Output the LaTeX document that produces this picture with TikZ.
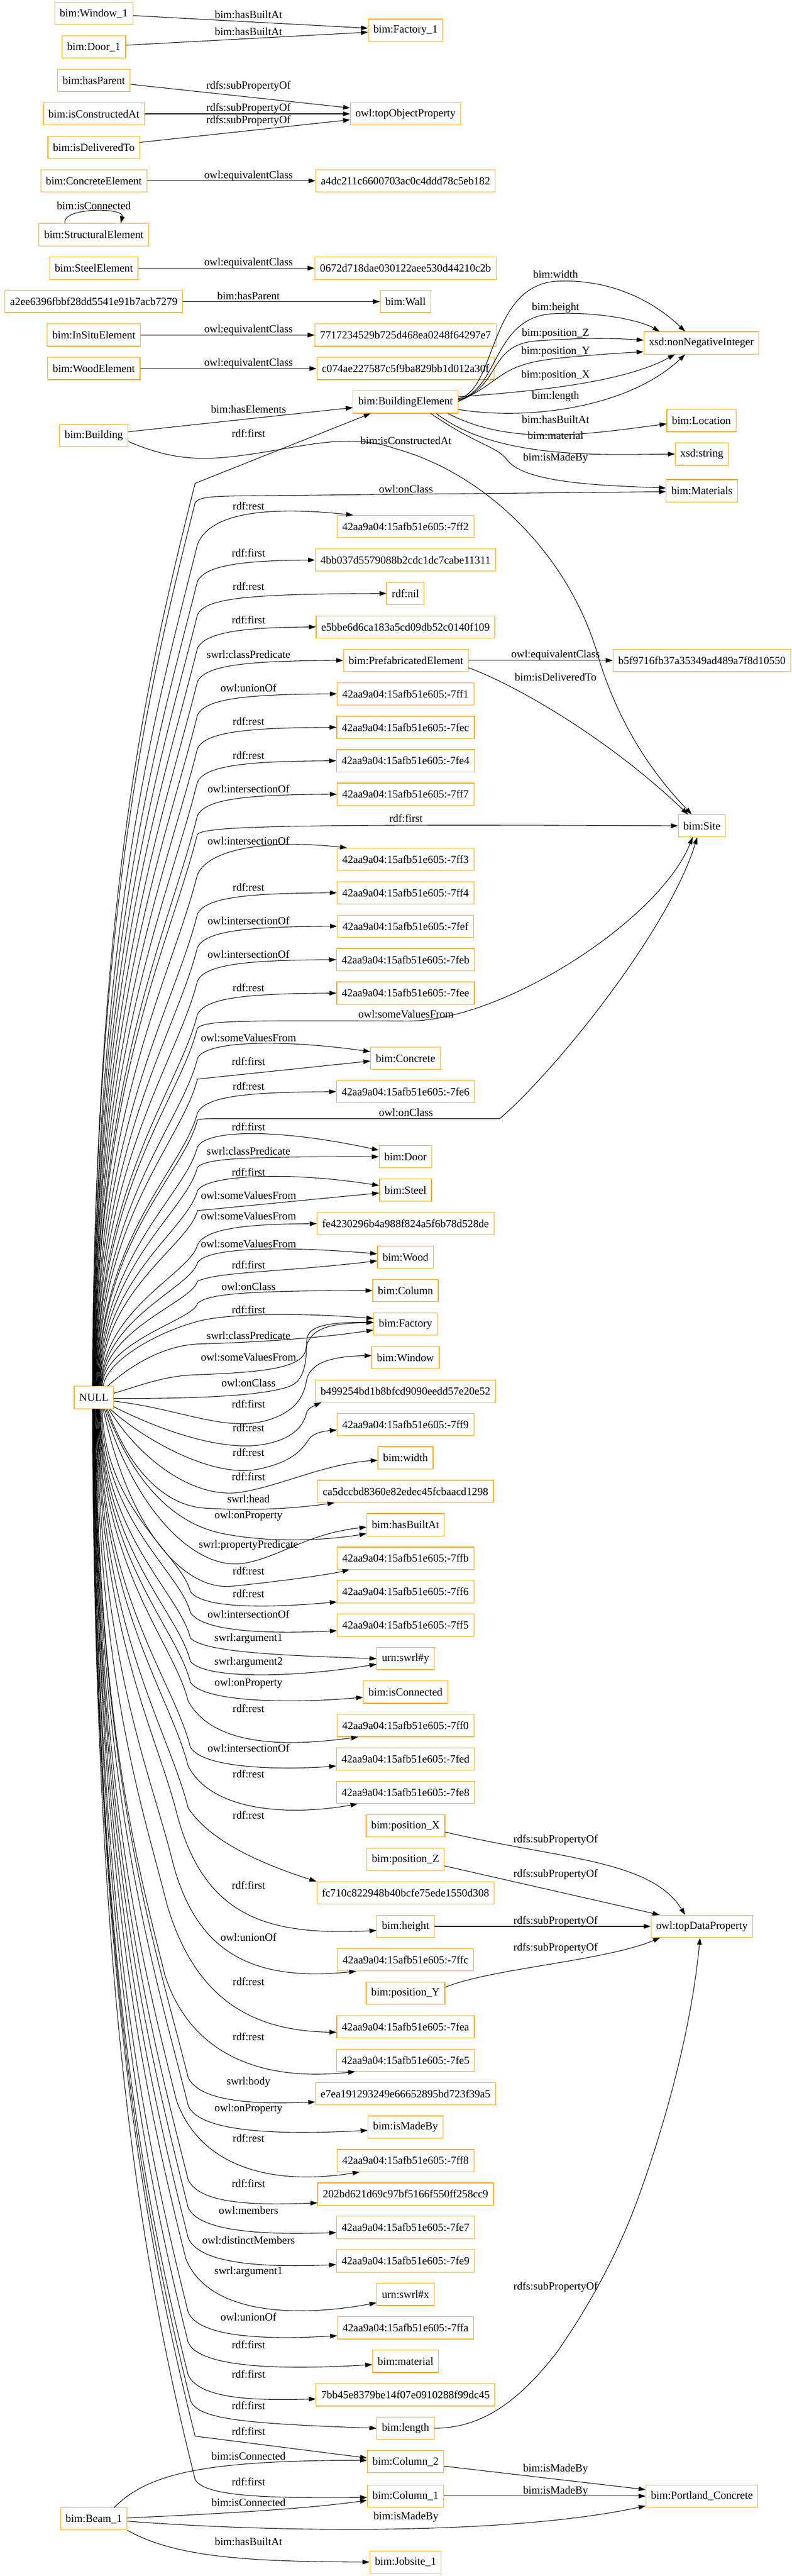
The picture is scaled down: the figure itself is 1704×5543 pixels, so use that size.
\documentclass[tikz,border=0pt]{standalone}
\usepackage{fontspec}
\setmainfont{Liberation Serif}
\usetikzlibrary{arrows.meta}
\definecolor{boxorange}{HTML}{FFA500}
\newcommand\fsz{\fontsize{23.5pt}{28pt}\selectfont}
% trunk upward from NULL: #1 xshift, #2 bend x, #3 bend y, #4 continuation
\newcommand\tu[4]{\draw[conn] ([xshift=#1pt]NULL.north) .. controls ({207+(#1)},{2983-0.55*(2983-(#3))}) and ({(#2)-0.05*(2983-(#3))},{(#3)+0.2*(2983-(#3))}) .. (#2,{#3}) #4;}
% trunk downward from NULL
\newcommand\td[4]{\draw[conn] ([xshift=#1pt]NULL.south) .. controls ({207+(#1)},{3031+0.55*((#3)-3031)}) and ({(#2)-0.05*((#3)-3031)},{(#3)-0.2*((#3)-3031)}) .. (#2,{#3}) #4;}
% standard upper edge: #1 xshift, #2 target, #3 target y
\newcommand\std[3]{\tu{#1}{425}{#3+46}{.. controls (442,{#3+10}) and (530,{#3+1}) .. (#2.west)}}
\begin{document}
\begin{tikzpicture}[x=1pt,y=-1pt,
  nbox/.style={draw=boxorange,line width=1.3pt,inner xsep=11pt,inner ysep=2pt,minimum height=48pt,font=\fsz},
  conn/.style={line width=1.2pt,-{Triangle[length=15pt,width=10pt]}},
  lbl/.style={font=\fsz,inner sep=0pt}]
\fill[white] (0,0) rectangle (1704,5543);
\useasboundingbox (0,0) rectangle (1704,5543);
% ---------- nodes ----------
\node[nbox] (win1) at (202,29) {bim:Window\_1};
\node[nbox] (door1) at (202,101) {bim:Door\_1};
\node[nbox] (fac1) at (873,65) {bim:Factory\_1};
\node[nbox] (hasp) at (202,173) {bim:hasParent};
\node[nbox] (isca) at (202,245) {bim:isConstructedAt};
\node[nbox] (isdt) at (202,317) {bim:isDeliveredTo};
\node[nbox] (top) at (873,245) {owl:topObjectProperty};
\node[nbox] (conel) at (202,389) {bim:ConcreteElement};
\node[nbox] (a4dc) at (873,389) {a4dc211c6600703ac0c4ddd78c5eb182};
\node[nbox] (strel) at (202,505) {bim:StructuralElement};
\node[nbox] (stel) at (202,577) {bim:SteelElement};
\node[nbox] (n0672) at (873,577) {0672d718dae030122aee530d44210c2b};
\node[nbox] (a2ee) at (202,649) {a2ee6396fbbf28dd5541e91b7acb7279};
\node[nbox] (wall) at (873,649) {bim:Wall};
\node[nbox] (insitu) at (202,721) {bim:InSituElement};
\node[nbox] (n7717) at (873,721) {7717234529b725d468ea0248f64297e7};
\node[nbox] (woodel) at (202,793) {bim:WoodElement};
\node[nbox] (c074) at (873,793) {c074ae227587c5f9ba829bb1d012a30f};
\node[nbox] (be) at (873,865) {bim:BuildingElement};
\node[nbox] (xsd) at (1510,738) {xsd:nonNegativeInteger};
\node[nbox] (bldg) at (202,937) {bim:Building};
\node[nbox] (loc) at (1510,905) {bim:Location};
\node[nbox] (str) at (1511,977) {xsd:string};
\node[nbox] (mat) at (1511,1056) {bim:Materials};
\node[nbox] (n7ff2) at (873,1133) {42aa9a04:15afb51e605:-7ff2};
\node[nbox] (n4bb) at (873,1205) {4bb037d5579088b2cdc1dc7cabe11311};
\node[nbox] (nil) at (873,1277) {rdf:nil};
\node[nbox] (e5bb) at (873,1349) {e5bbe6d6ca183a5cd09db52c0140f109};
\node[nbox] (pre) at (874,1421) {bim:PrefabricatedElement};
\node[nbox] (b5f) at (1511,1421) {b5f9716fb37a35349ad489a7f8d10550};
\node[nbox] (n7ff1) at (873,1493) {42aa9a04:15afb51e605:-7ff1};
\node[nbox] (n7fec) at (873,1565) {42aa9a04:15afb51e605:-7fec};
\node[nbox] (n7fe4) at (873,1637) {42aa9a04:15afb51e605:-7fe4};
\node[nbox] (n7ff7) at (873,1709) {42aa9a04:15afb51e605:-7ff7};
\node[nbox] (site) at (1511,1777) {bim:Site};
\node[nbox] (n7ff3) at (873,1849) {42aa9a04:15afb51e605:-7ff3};
\node[nbox] (n7ff4) at (873,1921) {42aa9a04:15afb51e605:-7ff4};
\node[nbox] (n7fef) at (873,1993) {42aa9a04:15afb51e605:-7fef};
\node[nbox] (n7feb) at (873,2065) {42aa9a04:15afb51e605:-7feb};
\node[nbox] (n7fee) at (873,2137) {42aa9a04:15afb51e605:-7fee};
\node[nbox] (conc) at (873,2277) {bim:Concrete};
\node[nbox] (n7fe6) at (873,2349) {42aa9a04:15afb51e605:-7fe6};
\node[nbox] (door) at (873,2489) {bim:Door};
\node[nbox] (steel) at (873,2561) {bim:Steel};
\node[nbox] (fe42) at (873,2633) {fe4230296b4a988f824a5f6b78d528de};
\node[nbox] (wood) at (873,2705) {bim:Wood};
\node[nbox] (col) at (873,2777) {bim:Column};
\node[nbox] (fac) at (873,2849) {bim:Factory};
\node[nbox] (win) at (873,2921) {bim:Window};
\node[nbox] (b49) at (873,2993) {b499254bd1b8bfcd9090eedd57e20e52};
\node[nbox] (NULL) at (202,3007) {NULL};
\node[nbox] (n7ff9) at (873,3065) {42aa9a04:15afb51e605:-7ff9};
\node[nbox] (wid) at (873,3137) {bim:width};
\node[nbox] (ca5d) at (873,3209) {ca5dccbd8360e82edec45fcbaacd1298};
\node[nbox] (hba) at (873,3281) {bim:hasBuiltAt};
\node[nbox] (n7ffb) at (873,3353) {42aa9a04:15afb51e605:-7ffb};
\node[nbox] (n7ff6) at (873,3425) {42aa9a04:15afb51e605:-7ff6};
\node[nbox] (n7ff5) at (873,3497) {42aa9a04:15afb51e605:-7ff5};
\node[nbox] (sy) at (873,3569) {urn:swrl\#y};
\node[nbox] (isc) at (873,3641) {bim:isConnected};
\node[nbox] (n7ff0) at (873,3713) {42aa9a04:15afb51e605:-7ff0};
\node[nbox] (n7fed) at (873,3785) {42aa9a04:15afb51e605:-7fed};
\node[nbox] (n7fe8) at (873,3857) {42aa9a04:15afb51e605:-7fe8};
\node[nbox] (px) at (873,3929) {bim:position\_X};
\node[nbox] (pz) at (873,4001) {bim:position\_Z};
\node[nbox] (fc) at (873,4073) {fc710c822948b40bcfe75ede1550d308};
\node[nbox] (ht) at (873,4145) {bim:height};
\node[nbox] (tdp) at (1511,4145) {owl:topDataProperty};
\node[nbox] (n7ffc) at (873,4217) {42aa9a04:15afb51e605:-7ffc};
\node[nbox] (py) at (873,4289) {bim:position\_Y};
\node[nbox] (n7fea) at (873,4361) {42aa9a04:15afb51e605:-7fea};
\node[nbox] (n7fe5) at (873,4433) {42aa9a04:15afb51e605:-7fe5};
\node[nbox] (e7ea) at (873,4505) {e7ea191293249e66652895bd723f39a5};
\node[nbox] (imb) at (873,4577) {bim:isMadeBy};
\node[nbox] (n7ff8) at (873,4649) {42aa9a04:15afb51e605:-7ff8};
\node[nbox] (n202) at (873,4721) {202bd621d69c97bf5166f550ff258cc9};
\node[nbox] (n7fe7) at (873,4793) {42aa9a04:15afb51e605:-7fe7};
\node[nbox] (n7fe9) at (873,4865) {42aa9a04:15afb51e605:-7fe9};
\node[nbox] (sx) at (873,4937) {urn:swrl\#x};
\node[nbox] (n7ffa) at (873,5009) {42aa9a04:15afb51e605:-7ffa};
\node[nbox] (mtl) at (873,5081) {bim:material};
\node[nbox] (n7bb) at (873,5153) {7bb45e8379be14f07e0910288f99dc45};
\node[nbox] (len) at (873,5225) {bim:length};
\node[nbox] (col2) at (873,5297) {bim:Column\_2};
\node[nbox] (col1) at (873,5371) {bim:Column\_1};
\node[nbox] (pc) at (1511,5371) {bim:Portland\_Concrete};
\node[nbox] (beam) at (202,5420) {bim:Beam\_1};
\node[nbox] (job) at (873,5513) {bim:Jobsite\_1};
% ---------- top edges ----------
\draw[conn] (win1) -- (fac1);
\draw[conn] (door1) -- (fac1);
\draw[conn] (hasp) -- (top);
\draw[conn] (isca) -- (top);
\draw[conn] (isdt) -- (top);
\draw[conn] (conel) -- (a4dc);
\draw[conn] ([xshift=-62pt]strel.north) .. controls (132,446) and (268,446) .. ([xshift=58pt]strel.north);
\draw[conn] (stel) -- (n0672);
\draw[conn] (a2ee) -- (wall);
\draw[conn] (insitu) -- (n7717);
\draw[conn] (woodel) -- (c074);
\draw[conn] (bldg) -- (be);
\draw[conn] ([yshift=-13pt]bldg.east) .. controls (380,995) and (450,990) .. (535,978) .. controls (650,962) and (750,930) .. (850,965) .. controls (1050,1020) and (1230,1200) .. (1290,1420) .. controls (1340,1580) and (1420,1680) .. ([xshift=-22pt]site.north);
% BuildingElement edges
\draw[conn] ([yshift=7pt]be.east) .. controls (1070,840) and (1050,612) .. (1201,605) .. controls (1330,600) and (1420,660) .. ([xshift=-35pt]xsd.north);
\draw[conn] ([yshift=5pt]be.east) .. controls (1075,840) and (1060,682) .. (1191,675) .. controls (1290,670) and (1380,690) .. ([xshift=-90pt]xsd.north);
\draw[conn] ([yshift=3pt]be.east) .. controls (1080,830) and (1050,745) .. (1150,734) .. controls (1250,726) and (1330,728) .. ([yshift=6pt]xsd.west);
\draw[conn] ([yshift=1pt]be.east) .. controls (1085,820) and (1070,785) .. (1200,771) .. controls (1270,764) and (1330,760) .. ([yshift=-19pt]xsd.west);
\draw[conn] ([yshift=11pt]be.east) .. controls (1100,845) and (1330,830) .. ([xshift=-57pt]xsd.south);
\draw[conn] ([yshift=-16pt]be.east) .. controls (1130,905) and (1350,880) .. ([xshift=-35pt]xsd.south);
\draw[conn] ([xshift=91pt]be.south) .. controls (1100,960) and (1260,935) .. ([yshift=-7pt]loc.west);
\draw[conn] ([xshift=66pt]be.south) .. controls (1070,990) and (1300,978) .. (str.west);
\draw[conn] ([xshift=54pt]be.south) .. controls (1030,960) and (1070,960) .. (1092,990) .. controls (1130,1040) and (1300,1045) .. ([yshift=6pt]mat.west);
% Prefab edges
\draw[conn] (pre) -- (b5f);
\draw[conn] ([yshift=-16pt]pre.east) .. controls (1100,1470) and (1300,1580) .. ([xshift=-30pt]site.north);
% ---------- NULL upward ----------
\tu{-3}{420}{1040}{-- ([xshift=-75pt]be.south)}
\tu{-3}{420}{1082}{.. controls (428,1070) and (450,1068) .. (520,1067) -- ([yshift=-2pt]mat.west)}
\tu{-2}{425}{1172}{.. controls (450,1105) and (570,1088) .. ([xshift=35pt]n7ff2.north west)}
\std{-2}{n4bb}{1205}
\std{-1}{nil}{1277}
\std{-1}{e5bb}{1349}
\std{0}{pre}{1421}
\std{0}{n7ff1}{1493}
\std{1}{n7fec}{1565}
\std{1}{n7fe4}{1637}
\std{2}{n7ff7}{1709}
\tu{2}{425}{1795}{.. controls (445,1778) and (600,1773) .. (site.west)}
\tu{3}{425}{1882}{.. controls (450,1825) and (580,1806) .. ([xshift=22pt]n7ff3.north west)}
\std{3}{n7ff4}{1921}
\std{4}{n7fef}{1993}
\std{4}{n7feb}{2065}
\std{5}{n7fee}{2137}
\tu{6}{425}{2212}{.. controls (445,2195) and (520,2196) .. (874,2197) .. controls (1080,2200) and (1420,1980) .. ([xshift=-20pt]site.south)}
\tu{7}{425}{2278}{.. controls (440,2240) and (600,2235) .. ([yshift=14pt]conc.west)}
\tu{8}{425}{2322}{-- ([yshift=-6pt]conc.west)}
\std{9}{n7fe6}{2349}
\tu{10}{425}{2410}{.. controls (440,2407) .. (480,2407) -- (1076,2407) .. controls (1200,2300) and (1440,2000) .. ([xshift=-10pt]site.south)}
\tu{11}{425}{2468}{.. controls (445,2430) and (600,2428) .. ([yshift=14pt]door.west)}
\tu{12}{425}{2512}{.. controls (445,2492) and (520,2489) .. (door.west)}
\tu{13}{425}{2562}{.. controls (445,2528) and (620,2520) .. ([yshift=10pt]steel.west)}
\tu{14}{425}{2605}{-- ([yshift=-6pt]steel.west)}
\std{15}{fe42}{2633}
\tu{16}{425}{2717}{.. controls (445,2685) and (600,2680) .. ([yshift=7pt]wood.west)}
\tu{17}{425}{2757}{.. controls (470,2736) and (600,2738) .. ([yshift=-8pt]wood.west)}
\tu{18}{425}{2805}{.. controls (445,2785) and (520,2777) .. (col.west)}
\draw[conn] ([xshift=20pt]NULL.north) .. controls (230,2930) and (330,2870) .. (420,2845) .. controls (480,2826) and (640,2824) .. ([yshift=12pt]fac.west);
\draw[conn] ([xshift=30pt]NULL.north) .. controls (290,2930) and (360,2895) .. (426,2892) .. controls (560,2888) and (680,2880) .. ([yshift=-13pt]fac.west);
\draw[conn] ([yshift=9pt]NULL.east) .. controls (320,2975) and (360,2960) .. (426,2958) .. controls (560,2953) and (650,2945) .. (658,2905) .. controls (665,2862) and (700,2847) .. ([yshift=3pt]fac.west);
\draw[conn] ([yshift=-2pt]NULL.east) .. controls (400,3010) and (580,3005) .. (630,2980) .. controls (665,2960) and (658,2900) .. (661,2880) .. controls (665,2855) and (700,2845) .. ([yshift=4pt]fac.west);
% ---------- NULL near / S-curves ----------
\draw[conn] ([yshift=-8pt]NULL.east) .. controls (380,3030) and (480,3080) .. (568,3058) .. controls (640,3040) and (655,3000) .. (660,2970) .. controls (668,2930) and (720,2918) .. ([yshift=4pt]win.west);
\draw[conn] ([yshift=-20pt]NULL.east) .. controls (330,3070) and (470,3125) .. (568,3108) .. controls (640,3095) and (655,3060) .. (660,3040) .. controls (663,3030) and (676,3025) .. ([xshift=13pt]b49.south west);
\draw[conn] ([xshift=35pt]NULL.south) .. controls (300,3090) and (450,3180) .. (552,3162) .. controls (640,3145) and (655,3110) .. (668,3093) .. controls (680,3082) and (700,3079) .. ([yshift=-12pt]n7ff9.west);
\draw[conn] ([xshift=32pt]NULL.south) .. controls (300,3140) and (420,3230) .. (524,3210) .. controls (610,3195) and (700,3150) .. ([yshift=-5pt]wid.west);
\draw[conn] ([xshift=29pt]NULL.south) .. controls (280,3170) and (360,3240) .. (440,3245) .. controls (550,3252) and (640,3245) .. ([xshift=37pt]ca5d.south west);
\draw[conn] ([xshift=26pt]NULL.south) .. controls (290,3200) and (380,3280) .. (480,3300) .. controls (580,3320) and (700,3315) .. ([yshift=-19pt]hba.west);
\draw[conn] ([xshift=23pt]NULL.south) .. controls (290,3250) and (420,3380) .. (524,3364) .. controls (600,3352) and (660,3300) .. ([yshift=-5pt]hba.west);
\draw[conn] ([xshift=20pt]NULL.south) .. controls (280,3300) and (400,3425) .. (502,3413) .. controls (580,3405) and (700,3390) .. ([xshift=27pt]n7ffb.south west);
% ---------- NULL downward ----------
\td{18}{410}{3425}{.. controls (440,3465) and (600,3458) .. ([yshift=-22pt]n7ff6.west)}
\td{16}{410}{3470}{.. controls (440,3515) and (600,3515) .. ([yshift=-12pt]n7ff5.west)}
\td{14}{410}{3525}{.. controls (440,3555) and (600,3562) .. (sy.west)}
\td{13}{410}{3575}{.. controls (440,3612) and (620,3612) .. ([yshift=-12pt]sy.west)}
\td{12}{410}{3620}{.. controls (440,3665) and (640,3665) .. ([yshift=-11pt]isc.west)}
\td{11}{405}{3660}{.. controls (460,3760) and (620,3758) .. ([xshift=46pt]n7ff0.south west)}
\td{10}{410}{3760}{.. controls (440,3808) and (620,3808) .. ([yshift=-15pt]n7fed.west)}
\td{9}{405}{3800}{.. controls (460,3905) and (640,3905) .. ([xshift=46pt]n7fe8.south west)}
\td{8}{405}{3890}{.. controls (450,3960) and (560,4010) .. (fc.north west)}
\td{7}{380}{3900}{.. controls (440,4130) and (580,4165) .. ([yshift=-9pt]ht.west)}
\td{6}{370}{4000}{.. controls (420,4200) and (540,4265) .. ([xshift=41pt]n7ffc.south west)}
\td{5}{360}{4100}{.. controls (420,4300) and (540,4370) .. ([yshift=-12pt]n7fea.west)}
\td{4}{355}{4250}{.. controls (410,4420) and (560,4480) .. ([xshift=41pt]n7fe5.south west)}
\td{3}{405}{4470}{.. controls (430,4525) and (560,4528) .. ([yshift=-18pt]e7ea.west)}
\td{2}{405}{4530}{.. controls (430,4595) and (640,4592) .. ([yshift=-7pt]imb.west)}
\td{2}{380}{4520}{.. controls (430,4660) and (580,4705) .. ([xshift=49pt]n7ff8.south west)}
\td{1}{405}{4690}{.. controls (430,4745) and (560,4745) .. ([yshift=-19pt]n202.west)}
\td{1}{405}{4750}{.. controls (430,4808) and (600,4808) .. ([yshift=-11pt]n7fe7.west)}
\td{0}{405}{4815}{.. controls (430,4878) and (600,4878) .. ([yshift=-8pt]n7fe9.west)}
\td{0}{400}{4860}{.. controls (450,4985) and (650,4985) .. ([yshift=-18pt]sx.west)}
\td{-1}{405}{4975}{.. controls (430,5035) and (600,5033) .. ([yshift=-17pt]n7ffa.west)}
\td{-1}{405}{5040}{.. controls (430,5100) and (640,5098) .. ([yshift=-7pt]mtl.west)}
\td{-2}{405}{5110}{.. controls (430,5165) and (560,5165) .. ([yshift=-9pt]n7bb.west)}
\td{-2}{410}{5165}{.. controls (425,5205) and (520,5215) .. (len.west)}
\td{-3}{420}{5242}{-- ([yshift=8pt]col2.west)}
\td{-3}{420}{5335}{.. controls (440,5375) and (600,5375) .. ([yshift=-3pt]col1.west)}
% ---------- data properties ----------
\draw[conn] ([yshift=-13pt]px.east) .. controls (1200,4000) and (1400,4000) .. ([xshift=-36pt]tdp.north);
\draw[conn] ([yshift=-14pt]pz.east) -- ([xshift=-91pt]tdp.north);
\draw[conn] (ht) -- (tdp);
\draw[conn] ([yshift=13pt]py.east) .. controls (1060,4235) and (1300,4220) .. ([xshift=-90pt]tdp.south);
\draw[conn] (len.east) .. controls (1050,5225) and (1130,5150) .. (1200,5060) .. controls (1290,4930) and (1340,4820) .. (1370,4740) .. controls (1440,4550) and (1490,4350) .. ([xshift=-4pt]tdp.south);
% ---------- beam ----------
\draw[conn] ([xshift=44pt]beam.north) .. controls (320,5320) and (450,5294) .. ([yshift=3pt]col2.west);
\draw[conn] ([yshift=2pt]beam.east) .. controls (450,5410) and (650,5400) .. ([yshift=-9pt]col1.west);
\draw[conn] ([yshift=-5pt]beam.east) .. controls (600,5450) and (1100,5455) .. ([yshift=-21pt]pc.west);
\draw[conn] (beam.south east) .. controls (380,5505) and (550,5512) .. (job.west);
\draw[conn] (col2) -- (pc);
\draw[conn] (col1) -- (pc);
% ---------- labels ----------
\node[lbl] at (535,31) {bim:hasBuiltAt};
\node[lbl] at (535,68) {bim:hasBuiltAt};
\node[lbl] at (535,186) {rdfs:subPropertyOf};
\node[lbl] at (535,233) {rdfs:subPropertyOf};
\node[lbl] at (535,260) {rdfs:subPropertyOf};
\node[lbl] at (535,378) {owl:equivalentClass};
\node[lbl] at (202,443) {bim:isConnected};
\node[lbl] at (535,566) {owl:equivalentClass};
\node[lbl] at (535,637) {bim:hasParent};
\node[lbl] at (535,710) {owl:equivalentClass};
\node[lbl] at (535,782) {owl:equivalentClass};
\node[lbl] at (535,881) {bim:hasElements};
\node[lbl] at (874,948) {bim:isConstructedAt};
\node[lbl] at (1196,590) {bim:width};
\node[lbl] at (1196,662) {bim:height};
\node[lbl] at (1196,718) {bim:position\_Z};
\node[lbl] at (1196,757) {bim:position\_Y};
\node[lbl] at (1196,808) {bim:position\_X};
\node[lbl] at (1196,853) {bim:length};
\node[lbl] at (1196,903) {bim:hasBuiltAt};
\node[lbl] at (1196,937) {bim:material};
\node[lbl] at (1196,986) {bim:isMadeBy};
\node[lbl] at (1196,1410) {owl:equivalentClass};
\node[lbl] at (1196,1457) {bim:isDeliveredTo};
\node[lbl] at (535,932) {rdf:first};
\node[lbl] at (874,1052) {owl:onClass};
\node[lbl] at (535,1089) {rdf:rest};
\node[lbl] at (535,1190) {rdf:first};
\node[lbl] at (535,1262) {rdf:rest};
\node[lbl] at (535,1334) {rdf:first};
\node[lbl] at (535,1408) {swrl:classPredicate};
\node[lbl] at (535,1480) {owl:unionOf};
\node[lbl] at (535,1552) {rdf:rest};
\node[lbl] at (535,1625) {rdf:rest};
\node[lbl] at (535,1698) {owl:intersectionOf};
\node[lbl] at (874,1761) {rdf:first};
\node[lbl] at (535,1809) {owl:intersectionOf};
\node[lbl] at (535,1909) {rdf:rest};
\node[lbl] at (535,1981) {owl:intersectionOf};
\node[lbl] at (535,2053) {owl:intersectionOf};
\node[lbl] at (535,2125) {rdf:rest};
\node[lbl] at (874,2182) {owl:someValuesFrom};
\node[lbl] at (535,2233) {owl:someValuesFrom};
\node[lbl] at (535,2284) {rdf:first};
\node[lbl] at (535,2337) {rdf:rest};
\node[lbl] at (874,2394) {owl:onClass};
\node[lbl] at (535,2425) {rdf:first};
\node[lbl] at (535,2477) {swrl:classPredicate};
\node[lbl] at (535,2522) {rdf:first};
\node[lbl] at (535,2572) {owl:someValuesFrom};
\node[lbl] at (535,2617) {owl:someValuesFrom};
\node[lbl] at (535,2676) {owl:someValuesFrom};
\node[lbl] at (535,2722) {rdf:first};
\node[lbl] at (535,2768) {owl:onClass};
\node[lbl] at (535,2818) {rdf:first};
\node[lbl] at (535,2874) {swrl:classPredicate};
\node[lbl] at (535,2920) {owl:someValuesFrom};
\node[lbl] at (535,2976) {owl:onClass};
\node[lbl] at (535,3021) {rdf:first};
\node[lbl] at (535,3072) {rdf:rest};
\node[lbl] at (535,3125) {rdf:rest};
\node[lbl] at (535,3177) {rdf:first};
\node[lbl] at (535,3225) {swrl:head};
\node[lbl] at (535,3262) {owl:onProperty};
\node[lbl] at (535,3325) {swrl:propertyPredicate};
\node[lbl] at (535,3380) {rdf:rest};
\node[lbl] at (535,3429) {rdf:rest};
\node[lbl] at (535,3473) {owl:intersectionOf};
\node[lbl] at (535,3526) {swrl:argument1};
\node[lbl] at (535,3577) {swrl:argument2};
\node[lbl] at (535,3622) {owl:onProperty};
\node[lbl] at (535,3676) {rdf:rest};
\node[lbl] at (535,3762) {owl:intersectionOf};
\node[lbl] at (535,3817) {rdf:rest};
\node[lbl] at (535,3906) {rdf:rest};
\node[lbl] at (535,4057) {rdf:first};
\node[lbl] at (535,4169) {owl:unionOf};
\node[lbl] at (535,4264) {rdf:rest};
\node[lbl] at (535,4382) {rdf:rest};
\node[lbl] at (535,4480) {swrl:body};
\node[lbl] at (535,4538) {owl:onProperty};
\node[lbl] at (535,4601) {rdf:rest};
\node[lbl] at (535,4698) {rdf:first};
\node[lbl] at (535,4756) {owl:members};
\node[lbl] at (535,4820) {owl:distinctMembers};
\node[lbl] at (535,4888) {swrl:argument1};
\node[lbl] at (535,4986) {owl:unionOf};
\node[lbl] at (535,5045) {rdf:first};
\node[lbl] at (535,5109) {rdf:first};
\node[lbl] at (535,5176) {rdf:first};
\node[lbl] at (535,5232) {rdf:first};
\node[lbl] at (535,5340) {rdf:first};
\node[lbl] at (1196,3959) {rdfs:subPropertyOf};
\node[lbl] at (1196,4033) {rdfs:subPropertyOf};
\node[lbl] at (1196,4134) {rdfs:subPropertyOf};
\node[lbl] at (1196,4192) {rdfs:subPropertyOf};
\node[lbl] at (1196,4921) {rdfs:subPropertyOf};
\node[lbl] at (535,5285) {bim:isConnected};
\node[lbl] at (535,5385) {bim:isConnected};
\node[lbl] at (874,5416) {bim:isMadeBy};
\node[lbl] at (535,5469) {bim:hasBuiltAt};
\node[lbl] at (1196,5313) {bim:isMadeBy};
\node[lbl] at (1196,5360) {bim:isMadeBy};
\end{tikzpicture}
\end{document}
